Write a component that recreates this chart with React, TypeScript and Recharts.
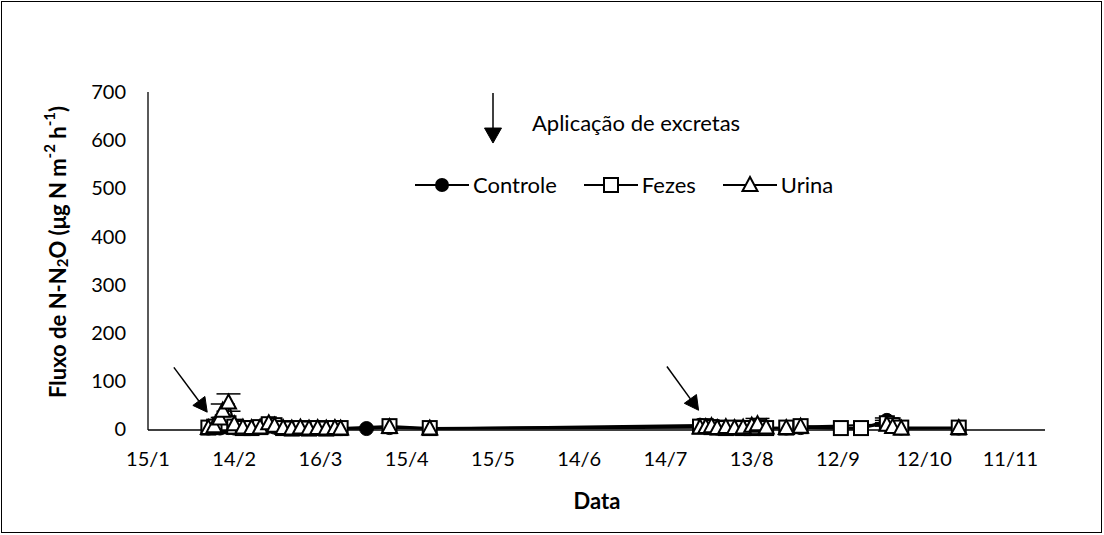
import React from 'react';
import { LineChart, Line, XAxis, YAxis, ErrorBar, ReferenceLine, Legend } from 'recharts';

// Sampling dates as day of year (15 = 15/1)
const dias = [
  36, 38, 40, 41, 43, 45, 48, 51, 54, 57, 59, 62, 65, 68, 71, 74, 77, 80, 82, 91, 99, 113,
  207, 209, 211, 213, 216, 219, 222, 225, 227, 230, 237, 242, 256, 263, 272, 274, 277, 297,
];

// N-N2O flux (µg N m-2 h-1) per treatment
const controle = [
  2, 3, 2, 4, 3, 2, 1, 2, 3, 6, 4, 1, 2, 1, 2, 3, 1, 2, 1, 1, 3, 1,
  8, 5, 3, 2, 3, 2, 1, 3, 2, 1, 2, 3, 1, 1, 18, 6, 2, 2,
];
const fezes = [
  3, 5, 9, 14, 12, 5, 2, 2, 4, 10, 8, 2, 1, 2, 1, 2, 1, 2, 2, null, 6, 2,
  5, 6, 4, 3, 2, 3, 2, 2, 4, 2, 3, 6, 2, 2, 12, 8, 3, 3,
];
const urina = [
  2, 6, 22, 38, 55, 10, 3, 2, 3, 12, 7, 2, 1, 3, 1, 2, 1, 2, 1, null, 4, 1,
  3, 4, 6, 2, 4, 2, 3, 7, 10, 3, 2, 5, null, null, 9, 4, 1, 2,
];

// Standard error (only where visible)
const erroControle = [
  null, null, null, null, null, null, null, null, null, null, null, null, null, null, null, null, null, null, null, null, null, null,
  null, null, null, null, null, null, null, null, null, null, null, null, null, null, 5, null, null, null,
];
const erroFezes = [
  null, null, null, 5, 6, null, null, null, null, 3, null, null, null, null, null, null, null, null, null, null, null, null,
  null, null, null, null, null, null, null, null, null, null, null, null, null, null, 6, null, null, null,
];
const erroUrina = [
  null, null, null, 14, 18, null, null, null, null, null, null, null, null, null, null, null, null, null, null, null, null, null,
  null, null, null, null, null, null, null, null, 12, null, null, null, null, null, null, null, null, null,
];

const ticksData = [15, 45, 75, 105, 135, 165, 195, 225, 255, 285, 315];
const rotulosData = ['15/1', '14/2', '16/3', '15/4', '15/5', '14/6', '14/7', '13/8', '12/9', '12/10', '11/11'];
const ticksFluxo = [0, 100, 200, 300, 400, 500, 600, 700];
const seriesNomes = ['Controle', 'Fezes', 'Urina'];

// Excreta application arrows: [start, tip] in (day, flux)
const setasAplicacao = [
  [{ x: 24, y: 128 }, { x: 35.6, y: 35 }],
  [{ x: 195.5, y: 130 }, { x: 206.5, y: 39 }],
];
const setaNota = [{ x: 135, y: 698 }, { x: 135, y: 594 }];
const textoNota = 'Aplicação de excretas';

const dados = dias.map((d, i) => ({
  dia: d,
  controle: controle[i],
  fezes: fezes[i],
  urina: urina[i],
  erroControle: erroControle[i],
  erroFezes: erroFezes[i],
  erroUrina: erroUrina[i],
}));

const FONTE = 'Lato, "Noto Sans", sans-serif';

const Circulo = (p: any) => {
  const { cx, cy, index } = p;
  if (cx == null || cy == null) return <g key={`c-${index}`} />;
  return <circle key={`c-${index}`} cx={cx} cy={cy} r={7} fill="#000" stroke="#000" strokeWidth={1} />;
};

const Quadrado = (p: any) => {
  const { cx, cy, index } = p;
  if (cx == null || cy == null) return <g key={`q-${index}`} />;
  return <rect key={`q-${index}`} x={cx - 7} y={cy - 7} width={14} height={14} fill="#fff" stroke="#000" strokeWidth={2} />;
};

const Triangulo = (p: any) => {
  const { cx, cy, index } = p;
  if (cx == null || cy == null) return <g key={`t-${index}`} />;
  const pts = `${cx},${cy - 8} ${cx + 7.5},${cy + 6} ${cx - 7.5},${cy + 6}`;
  return <polygon key={`t-${index}`} points={pts} fill="#fff" stroke="#000" strokeWidth={2} strokeLinejoin="miter" />;
};

const desenhaSeta = (x1: number, y1: number, x2: number, y2: number, L: number, W: number) => {
  const a = Math.atan2(y2 - y1, x2 - x1);
  const c = Math.cos(a);
  const s = Math.sin(a);
  const bx = x2 - L * c;
  const by = y2 - L * s;
  const pts = `${x2},${y2} ${bx - W * s},${by + W * c} ${bx + W * s},${by - W * c}`;
  return (
    <g>
      <line x1={x1} y1={y1} x2={bx} y2={by} stroke="#000" strokeWidth={1.5} />
      <polygon points={pts} fill="#000" stroke="#000" strokeWidth={1} />
    </g>
  );
};

const Seta = (p: any) => desenhaSeta(p.x1, p.y1, p.x2, p.y2, 14, 7.5);

const SetaNota = (p: any) => (
  <g>
    {desenhaSeta(p.x1, p.y1, p.x2, p.y2, 15, 8.5)}
    <text x={p.x1 + 39} y={p.y1 + 30} fontFamily={FONTE} fontSize={22} fill="#000" dominantBaseline="central">
      {textoNota}
    </text>
  </g>
);

const IconeLegenda = ({ tipo }: { tipo: number }) => (
  <svg width={54} height={20} style={{ display: 'block' }}>
    <line x1={0} y1={10} x2={54} y2={10} stroke="#000" strokeWidth={2} />
    {tipo === 0 && <circle cx={27} cy={10} r={7} fill="#000" />}
    {tipo === 1 && <rect x={20} y={3} width={14} height={14} fill="#fff" stroke="#000" strokeWidth={2} />}
    {tipo === 2 && <polygon points="27,2 34.5,16 19.5,16" fill="#fff" stroke="#000" strokeWidth={2} />}
  </svg>
);

const ConteudoLegenda = () => (
  <div style={{ display: 'flex', alignItems: 'center', fontFamily: FONTE, fontSize: 22, color: '#000' }}>
    {seriesNomes.map((n, i) => (
      <div key={n} style={{ display: 'flex', alignItems: 'center', marginRight: 27 }}>
        <IconeLegenda tipo={i} />
        <span style={{ marginLeft: 4, lineHeight: '26px' }}>{n}</span>
      </div>
    ))}
  </div>
);

export default function App() {
  return (
    <div style={{ position: 'absolute', left: 0, top: 0, width: 1104, height: 535, background: '#fff' }}>
      <div
        style={{
          position: 'absolute', left: 1, top: 1, width: 1101, height: 532,
          border: '1px solid #000', boxSizing: 'border-box',
        }}
      />
      <div style={{ position: 'absolute', left: 0, top: 0 }}>
        <LineChart width={1104} height={535} data={dados} margin={{ top: 92, right: 59, bottom: 65, left: 88 }}>
          <XAxis
            dataKey="dia"
            type="number"
            domain={[15, 327]}
            ticks={ticksData}
            tickFormatter={(v: number) => rotulosData[ticksData.indexOf(v)] ?? ''}
            tickLine={false}
            tickSize={0}
            tickMargin={22}
            height={40}
            axisLine={{ stroke: '#000', strokeWidth: 1.3 }}
            tick={{ fill: '#000', fontSize: 20, fontFamily: FONTE }}
            interval={0}
          />
          <YAxis
            type="number"
            domain={[0, 700]}
            ticks={ticksFluxo}
            tickLine={false}
            tickSize={0}
            tickMargin={22}
            width={60}
            axisLine={{ stroke: '#000', strokeWidth: 1.3 }}
            tick={{ fill: '#000', fontSize: 20, fontFamily: FONTE }}
            interval={0}
          />
          {setasAplicacao.map((s, i) => (
            <ReferenceLine key={`seta-${i}`} segment={s} shape={Seta} ifOverflow="visible" />
          ))}
          <ReferenceLine segment={setaNota} shape={SetaNota} ifOverflow="visible" />
          <Line
            dataKey="controle"
            type="linear"
            stroke="#000"
            strokeWidth={2.25}
            connectNulls
            dot={Circulo}
            isAnimationActive={false}
          >
            <ErrorBar dataKey="erroControle" width={12} stroke="#000" strokeWidth={1.5} direction="y" />
          </Line>
          <Line
            dataKey="fezes"
            type="linear"
            stroke="#000"
            strokeWidth={2.25}
            connectNulls
            dot={Quadrado}
            isAnimationActive={false}
          >
            <ErrorBar dataKey="erroFezes" width={12} stroke="#000" strokeWidth={1.5} direction="y" />
          </Line>
          <Line
            dataKey="urina"
            type="linear"
            stroke="#000"
            strokeWidth={2.25}
            connectNulls
            dot={Triangulo}
            isAnimationActive={false}
          >
            <ErrorBar dataKey="erroUrina" width={12} stroke="#000" strokeWidth={1.5} direction="y" />
          </Line>
          <Legend
            layout="horizontal"
            verticalAlign="middle"
            align="center"
            content={ConteudoLegenda}
            wrapperStyle={{ left: 415, top: 172, width: 'auto' }}
          />
        </LineChart>
      </div>
      <svg width={1104} height={535} style={{ position: 'absolute', left: 0, top: 0, pointerEvents: 'none' }}>
        <text
          x={57}
          y={252}
          transform="rotate(-90, 57, 252)"
          textAnchor="middle"
          dominantBaseline="central"
          fontFamily={FONTE}
          fontWeight="bold"
          fontSize={22}
          fill="#000"
        >
          Fluxo de N-N<tspan dy={5} fontSize={15}>2</tspan>
          <tspan dy={-5}>O (μg N m</tspan>
          <tspan dy={-8} fontSize={15}>-2</tspan>
          <tspan dy={8}> h</tspan>
          <tspan dy={-8} fontSize={15}>-1</tspan>
          <tspan dy={8}>)</tspan>
        </text>
        <text x={597} y={500} textAnchor="middle" dominantBaseline="central" fontFamily={FONTE} fontWeight="bold" fontSize={22} fill="#000">
          Data
        </text>
      </svg>
    </div>
  );
}
